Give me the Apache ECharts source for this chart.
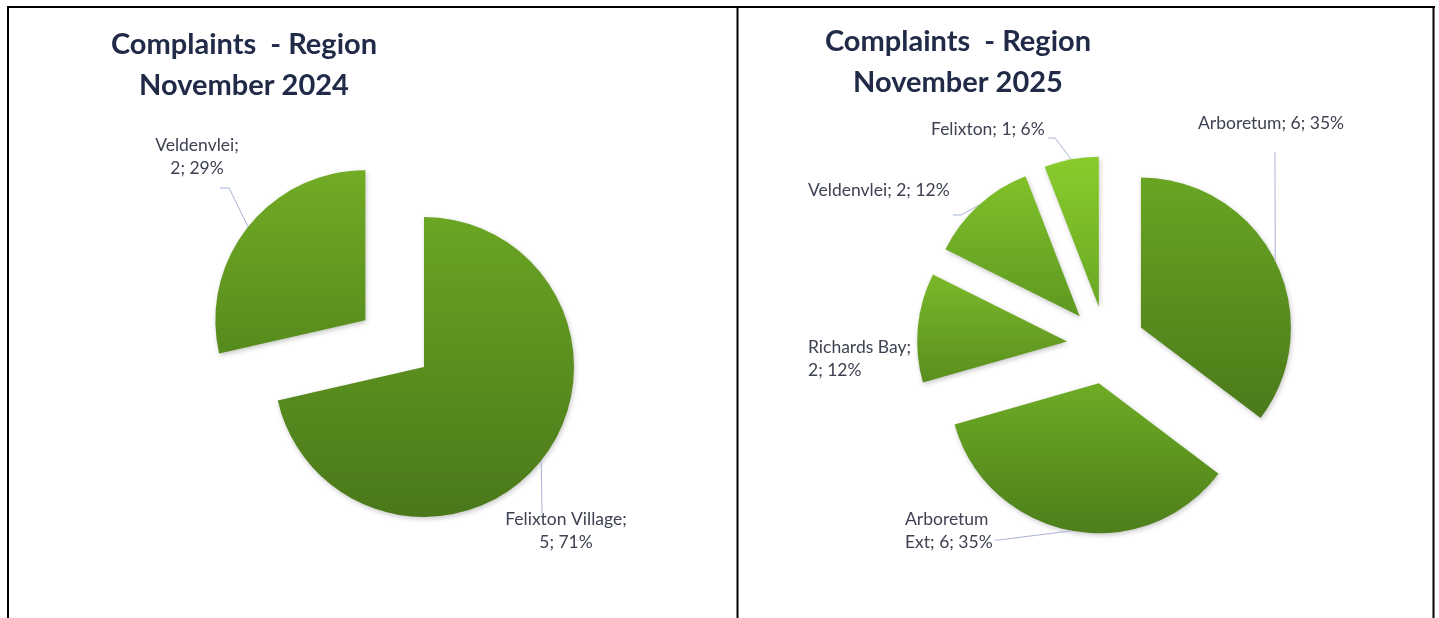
<!DOCTYPE html>
<html>
<head>
<meta charset="utf-8">
<title>Complaints - Region</title>
<script src="https://cdn.jsdelivr.net/npm/echarts@6/dist/echarts.min.js"></script>
<style>
  html, body { margin: 0; padding: 0; background: #fff; }
  #chart { width: 1439px; height: 618px; }
</style>
</head>
<body>
<div id="chart"></div>
<script>
// November 2024
const regions2024 = ['Felixton Village', 'Veldenvlei'];
const complaints2024 = [5, 2];
// November 2025
const regions2025 = ['Arboretum', 'Arboretum Ext', 'Richards Bay', 'Veldenvlei', 'Felixton'];
const complaints2025 = [6, 6, 2, 2, 1];
const chartTitles = ['Complaints  - Region\nNovember 2024', 'Complaints  - Region\nNovember 2025'];

// where Excel had put each data label (by hand), plus the leader line bends
const labelSpots = [
  [
    { x: 566, y: 531, align: 'center', brk: 'semi', line: [[542, 513], [542, 513]] },
    { x: 197, y: 157, align: 'center', brk: 'semi', line: [[229, 188], [220, 188]] }
  ],
  [
    { x: 1198, y: 123, align: 'left', brk: null, line: [[1275, 152], [1275, 152]] },
    { x: 905, y: 531, align: 'left', brk: 'space', line: [[999, 540], [995, 540]] },
    { x: 808, y: 359, align: 'left', brk: 'semi', line: null },
    { x: 808, y: 190, align: 'left', brk: null, line: [[961, 215], [953, 215]] },
    { x: 931, y: 129, align: 'left', brk: null, line: [[1055, 138], [1048, 138]] }
  ]
];

// top / bottom shade of each slice gradient
const shades2024 = [['#6aa523', '#4a781a'], ['#72ab24', '#568b1d']];
const shades2025 = [['#69a523', '#4b7a1a'], ['#6eac25', '#4d7e1b'], ['#7ab929', '#5a8e1f'],
                    ['#80c12a', '#5e9820'], ['#89cc2d', '#6aa823']];

const chart = echarts.init(document.getElementById('chart'), null, { renderer: 'canvas' });

function labelText(p, brk) {
  let s = p.name + '; ' + p.value + '; ' + p.percent + '%';
  if (brk === 'semi') s = s.replace('; ', ';\n');
  if (brk === 'space') s = s.replace(' ', '\n');
  return s;
}

// the coloured slices, exploded through the selected state
function pieSeries(names, values, shades, center, offset, exploded) {
  return {
    type: 'pie',
    center: center,
    radius: 150,
    startAngle: 90,
    clockwise: true,
    selectedMode: 'multiple',
    selectedOffset: offset,
    emphasis: { disabled: true },
    animation: false,
    label: { show: false },
    labelLine: { show: false },
    data: names.map((n, i) => ({
      name: n,
      value: values[i],
      selected: exploded[i],
      itemStyle: {
        color: new echarts.graphic.LinearGradient(0, 0, 0, 1, [
          { offset: 0, color: shades[i][0] },
          { offset: 1, color: shades[i][1] }
        ])
      }
    })),
    itemStyle: {
      shadowBlur: 5,
      shadowColor: 'rgba(0,0,0,0.22)',
      shadowOffsetX: 1,
      shadowOffsetY: 2
    }
  };
}

// same pie again, invisible, only carrying the data labels
// (selected labels ignore labelLayout, so they live here)
function labelSeries(idx, names, values, center, offset, exploded) {
  const spots = labelSpots[idx];
  return {
    type: 'pie',
    center: center,
    radius: 150,
    startAngle: 90,
    clockwise: true,
    percentPrecision: 0,
    avoidLabelOverlap: false,
    silent: true,
    animation: false,
    z: 3,
    itemStyle: { color: 'rgba(0,0,0,0)' },
    data: names.map((n, i) => ({
      name: n,
      value: values[i],
      labelLine: { show: !!spots[i].line }
    })),
    label: {
      show: true,
      position: 'outside',
      fontFamily: 'Lato',
      fontSize: 17.5,
      lineHeight: 23,
      color: '#3e4252',
      formatter: p => labelText(p, spots[p.dataIndex].brk)
    },
    labelLine: {
      show: true,
      lineStyle: { color: '#a9b2d8', width: 1 }
    },
    labelLayout: function (params) {
      const s = spots[params.dataIndex];
      const out = { x: s.x, y: s.y, align: s.align, verticalAlign: 'middle' };
      const pts = params.labelLinePoints;
      if (s.line && pts) {
        let p0 = pts[0];
        if (exploded[params.dataIndex]) {
          const dx = p0[0] - center[0], dy = p0[1] - center[1];
          const len = Math.hypot(dx, dy);
          p0 = [p0[0] + offset * dx / len, p0[1] + offset * dy / len];
        }
        out.labelLinePoints = [p0, s.line[0], s.line[1]];
      }
      return out;
    }
  };
}

const borderStyle = { stroke: '#000', lineWidth: 2 };
const titleFont = 'bold 29px Lato';

const left = { center: [424, 367], offset: 75, exploded: [false, true] };
const right = { center: [1106, 345], offset: 39, exploded: [true, true, true, true, true] };

const option = {
  backgroundColor: '#fff',
  graphic: [
    { type: 'line', shape: { x1: 7, y1: 7, x2: 1435, y2: 7 }, style: borderStyle },
    { type: 'line', shape: { x1: 8, y1: 6, x2: 8, y2: 618 }, style: borderStyle },
    { type: 'line', shape: { x1: 737.5, y1: 6, x2: 737.5, y2: 618 }, style: borderStyle },
    { type: 'line', shape: { x1: 1433.5, y1: 6, x2: 1433.5, y2: 618 }, style: borderStyle },
    {
      type: 'text', x: 244, y: 65,
      style: {
        text: chartTitles[0], textAlign: 'center', textVerticalAlign: 'middle',
        font: titleFont, lineHeight: 41, fill: '#212b48'
      }
    },
    {
      type: 'text', x: 958, y: 62,
      style: {
        text: chartTitles[1], textAlign: 'center', textVerticalAlign: 'middle',
        font: titleFont, lineHeight: 41, fill: '#212b48'
      }
    }
  ],
  series: [
    pieSeries(regions2024, complaints2024, shades2024, left.center, left.offset, left.exploded),
    pieSeries(regions2025, complaints2025, shades2025, right.center, right.offset, right.exploded),
    labelSeries(0, regions2024, complaints2024, left.center, left.offset, left.exploded),
    labelSeries(1, regions2025, complaints2025, right.center, right.offset, right.exploded)
  ]
};

chart.setOption(option);
</script>
</body>
</html>
